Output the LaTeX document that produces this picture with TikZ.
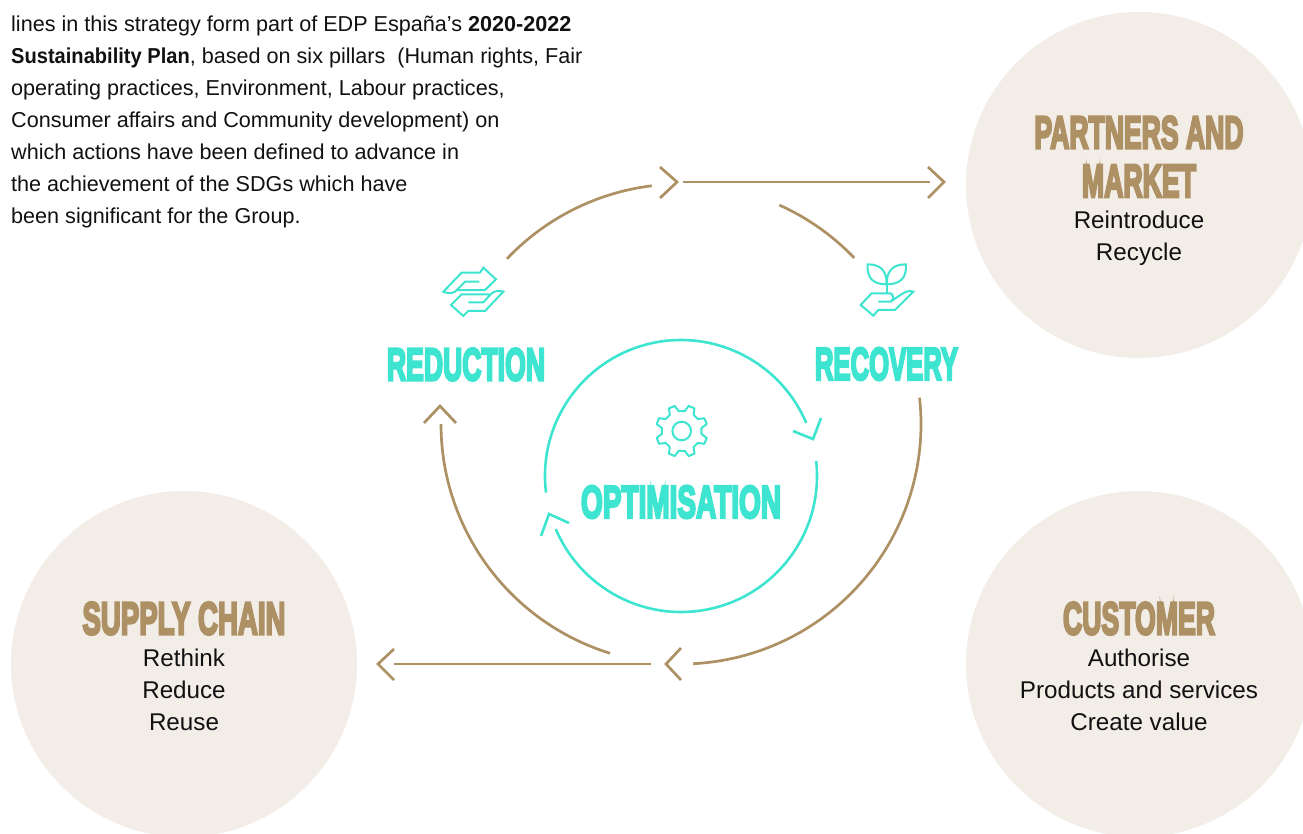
\documentclass[tikz,border=0pt]{standalone}
\usepackage{fontspec}
\usepackage{graphicx}
\setmainfont{Liberation Sans}
\newfontfamily\headfont[FakeBold=6]{Liberation Sans Bold}
\newfontfamily\narrowbold[FakeStretch=0.93]{Liberation Sans Bold}
\definecolor{teal1}{HTML}{3DE5D0}
\definecolor{brown1}{HTML}{AD9063}
\definecolor{disc}{HTML}{F2EDE7}
\definecolor{ink}{HTML}{111111}
\newcommand{\hd}[2]{\resizebox{#1pt}{32pt}{\headfont #2}}
\tikzset{
  x=1pt,y=-1pt,
  discnode/.style={circle,fill=disc,draw=none,minimum size=346pt,inner sep=0pt},
  brownline/.style={draw=brown1,line width=2.7pt},
  tealline/.style={draw=teal1,line width=2.6pt},
  iconline/.style={draw=teal1,line width=2pt,line join=miter},
  headbrown/.style={text=brown1,inner sep=0pt},
  headteal/.style={text=teal1,inner sep=0pt},
  bodytext/.style={text=ink,font=\fontsize{24.2}{32}\selectfont,align=center,inner sep=0pt},
}
\begin{document}
\begin{tikzpicture}
\useasboundingbox (0,0) rectangle (1303,833);
\clip (0,0) rectangle (1303,833);
\node[discnode] (partners) at (1139,185) {};
\node[discnode] (customer) at (1139,664) {};
\node[discnode] (supply) at (184,664) {};

\node[anchor=north west,inner sep=0pt,text=ink,align=left,font=\fontsize{21.6}{32}\selectfont] (intro) at (11,15.5)
{lines in this strategy form part of EDP España's \textbf{2020-2022}\\
{\narrowbold Sustainability Plan}, based on six pillars\ \ (Human rights, Fair\\
operating practices, Environment, Labour practices,\\
Consumer affairs and Community development) on\\
which actions have been defined to advance in\\
the achievement of the SDGs which have\\
been significant for the Group.};

\node[headbrown] (h1) at (1139,132.5) {\hd{209}{PARTNERS AND}};
\node[headbrown] (h2) at (1139,181) {\hd{114}{MARKET}};
\node[bodytext] (t1) at (1139,238.5) {Reintroduce\\Recycle};
\node[headbrown] (h3) at (184,618.5) {\hd{203}{SUPPLY CHAIN}};
\node[bodytext] (t2) at (184,689.5) {Rethink\\Reduce\\Reuse};
\node[headbrown] (h4) at (1139,618.5) {\hd{152}{CUSTOMER}};
\node[bodytext] (t3) at (1139,689.5) {Authorise\\Products and services\\Create value};
\node[headteal] (reduction) at (466,364.5) {\hd{158}{REDUCTION}};
\node[headteal] (recovery) at (886.5,364) {\hd{143}{RECOVERY}};
\node[headteal] (optim) at (681,502) {\hd{200}{OPTIMISATION}};

\coordinate (bc) at (681,424);
\coordinate (tc) at (681,476);
% outer ring
\draw[brownline] (bc) ++(223.5:240) arc (223.5:263:240);
\draw[brownline] (bc) ++(294.2:240) arc (294.2:316.2:240);
\draw[brownline] (bc) ++(-6.3:240) arc (-6.3:87.1:240);
\draw[brownline] (bc) ++(107.2:240) arc (107.2:180:240);
\coordinate (tA) at (683,182); \coordinate (tB) at (930,182);
\draw[brownline] (tA) -- (tB);
\coordinate (bA) at (651,664); \coordinate (bB) at (394,664);
\draw[brownline] (bA) -- (bB);
\draw[brownline] (660,167) -- (677,182) -- (660,198);
\draw[brownline] (928,167) -- (944,182) -- (928,198);
\draw[brownline] (681,648) -- (666,664) -- (681,680);
\draw[brownline] (394,649) -- (378,664) -- (394,680);
\draw[brownline] (424,423) -- (440,406) -- (456,423);
% inner ring
\draw[tealline] (tc) ++(173:136) arc (173:337:136);
\draw[tealline] (tc) ++(-6.3:136) arc (-6.3:157:136);
\draw[tealline] (793,431) -- (813,439) -- (821,418);
\draw[tealline] (569,523) -- (549,514) -- (541,536);
% gear
\begin{scope}[shift={(681.7,431)}]
\draw[iconline] (0:9.3) arc (0:360:9.3);
\draw[iconline,line join=round] (8.5:20)
  \foreach \a in {22.5,67.5,...,337.5} { -- (\a-14:20) -- (\a-7:26) -- (\a+7:26) -- (\a+14:20) } -- cycle;
\end{scope}
% exchange hands icon
\begin{scope}[shift={(370,250)},x=0.3333pt,y=-0.3333pt]
\draw[iconline] (328,95) -- (285,95) -- (255,125) .. controls (243,132) and (232,130) .. (220,125) -- (275,68) -- (330,68) -- (340,53) -- (378,88) -- (345,120) -- (262,120);
\draw[iconline] (295,157) -- (340,157) -- (365,130) .. controls (377,122) and (388,120) .. (400,125) -- (345,183) -- (295,183) -- (280,198) -- (243,165) -- (275,133) -- (358,133);
\end{scope}
% plant icon
\begin{scope}[shift={(770,240)},x=0.3333pt,y=-0.3333pt]
\draw[iconline] (350,160) -- (350,105);
\draw[iconline] (293,73) .. controls (335,73) and (350,95) .. (350,133) .. controls (310,133) and (290,115) .. (293,73) -- cycle;
\draw[iconline] (408,73) .. controls (366,73) and (350,95) .. (350,133) .. controls (390,133) and (410,115) .. (408,73) -- cycle;
\draw[iconline] (325,185) -- (362,185) .. controls (372,180) and (372,165) .. (362,160) -- (305,160) -- (272,195) -- (310,227) -- (325,210) -- (375,210) -- (430,155) .. controls (415,148) and (400,158) .. (362,185);
\end{scope}
\end{tikzpicture}
\end{document}
